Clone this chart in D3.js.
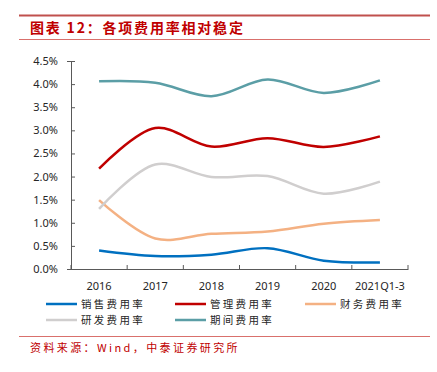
<!DOCTYPE html>
<html>
<head>
<meta charset="utf-8">
<script src="https://cdn.jsdelivr.net/npm/d3@7"></script>
<style>
  body { margin: 0; background: #fff; }
  svg { display: block; }
</style>
</head>
<body>
<svg id="chart" width="437" height="372"></svg>
<script>
var years = ["2016", "2017", "2018", "2019", "2020", "2021Q1-3"];
var seriesNames = ["销售费用率", "管理费用率", "财务费用率", "研发费用率", "期间费用率"];
var sales   = [0.40, 0.28, 0.31, 0.45, 0.18, 0.14];
var admin   = [2.17, 3.05, 2.65, 2.83, 2.64, 2.87];
var finance = [1.49, 0.66, 0.76, 0.81, 0.98, 1.06];
var rnd     = [1.30, 2.26, 1.99, 2.01, 1.63, 1.89];
var period  = [4.06, 4.03, 3.74, 4.10, 3.81, 4.08];
var yTicks = [0, 0.5, 1.0, 1.5, 2.0, 2.5, 3.0, 3.5, 4.0, 4.5];
var colors = ["#0070C0", "#C00000", "#F4B183", "#D0CECE", "#5B9EA6"];

var allSeries = [sales, admin, finance, rnd, period];

var svg = d3.select("#chart"),
    margin = {top: 61, right: 30, bottom: 103, left: 71},
    width = 408 - margin.left,
    height = 269 - margin.top,
    g = svg.append("g").attr("transform", "translate(" + margin.left + "," + margin.top + ")");

var cjk = "'Noto Sans CJK SC', sans-serif";

// header
svg.append("line").attr("x1", 19).attr("x2", 430).attr("y1", 15.5).attr("y2", 15.5)
    .attr("stroke", "#C0504D").attr("stroke-width", 2);
svg.append("line").attr("x1", 19).attr("x2", 430).attr("y1", 39.5).attr("y2", 39.5)
    .attr("stroke", "#D9706C").attr("stroke-width", 1);
svg.append("text").attr("x", 30).attr("y", 33)
    .attr("fill", "#C00000")
    .style("font", "600 14px " + cjk)
    .style("letter-spacing", "1.8px")
    .text("图表 12：各项费用率相对稳定");

var x = d3.scaleBand().domain(years).range([0, width]);
var y = d3.scaleLinear().domain([0, 4.5]).range([height, 0]);

g.append("g")
    .attr("transform", "translate(0," + height + ")")
    .call(d3.axisBottom(x).tickSize(0).tickFormat(""))
    .call(function(a) { a.select(".domain").attr("stroke", "#595959"); });

// x ticks at band edges
g.selectAll(".xtick")
  .data(years.concat([null]))
  .enter().append("line")
    .attr("x1", function(d, i) { return i * x.step(); })
    .attr("x2", function(d, i) { return i * x.step(); })
    .attr("y1", height)
    .attr("y2", height - 4)
    .attr("stroke", "#595959");

g.selectAll(".xlabel")
  .data(years)
  .enter().append("text")
    .attr("x", function(d) { return x(d) + x.bandwidth() / 2; })
    .attr("y", height + 21)
    .attr("text-anchor", "middle")
    .attr("fill", "#262626")
    .style("font", "11px 'Noto Sans', sans-serif")
    .text(function(d) { return d; });

var yAxis = g.append("g")
    .call(d3.axisLeft(y).tickValues(yTicks).tickSize(4).tickPadding(9)
      .tickFormat(function(d) { return d.toFixed(1) + "%"; }));
yAxis.select(".domain").attr("stroke", "#595959");
yAxis.selectAll(".tick line").attr("stroke", "#595959").attr("x2", 4);
yAxis.selectAll("text").attr("fill", "#262626")
    .style("font", "11px 'Noto Sans', sans-serif");

var line = d3.line()
    .x(function(d, i) { return x(years[i]) + x.bandwidth() / 2; })
    .y(function(d) { return y(d); })
    .curve(d3.curveCatmullRom.alpha(0.5));

g.selectAll(".serie")
  .data(allSeries)
  .enter().append("path")
    .attr("fill", "none")
    .attr("stroke", function(d, i) { return colors[i]; })
    .attr("stroke-width", 2.5)
    .attr("d", line);

// legend
var legendPos = [[46, 304], [175, 304], [305, 304], [46, 320], [175, 320]];
var legend = svg.selectAll(".legend")
  .data(seriesNames)
  .enter().append("g")
    .attr("transform", function(d, i) { return "translate(" + legendPos[i][0] + "," + legendPos[i][1] + ")"; });

legend.append("line")
    .attr("x1", 0).attr("x2", 31)
    .attr("stroke", function(d, i) { return colors[i]; })
    .attr("stroke-width", 2.5);

legend.append("text")
    .attr("x", 35)
    .attr("dy", "0.35em")
    .attr("fill", "#262626")
    .style("font", "10.5px " + cjk)
    .style("letter-spacing", "2.3px")
    .text(function(d) { return d; });

// footer
svg.append("line").attr("x1", 19).attr("x2", 430).attr("y1", 336.5).attr("y2", 336.5)
    .attr("stroke", "#D9706C").attr("stroke-width", 1);
svg.append("text").attr("x", 30).attr("y", 352)
    .attr("fill", "#C00000")
    .style("font", "11px " + cjk)
    .style("letter-spacing", "2.4px")
    .text("资料来源：Wind，中泰证券研究所");
</script>
</body>
</html>
